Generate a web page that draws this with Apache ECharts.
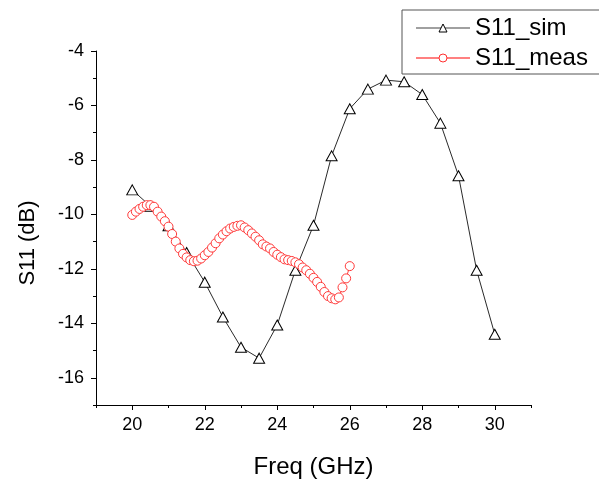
<!DOCTYPE html>
<html>
<head>
<meta charset="utf-8">
<script src="https://cdn.jsdelivr.net/npm/echarts@6/dist/echarts.min.js"></script>
<style>
html,body{margin:0;padding:0;background:#fff;}
#chart{width:599px;height:485px;}
</style>
</head>
<body>
<div id="chart"></div>
<script>
const freqSim = [20,20.5,21,21.5,22,22.5,23,23.5,24,24.5,25,25.5,26,26.5,27,27.5,28,28.5,29,29.5,30];
const s11Sim = [-9.10,-9.70,-10.42,-11.40,-12.49,-13.77,-14.88,-15.28,-14.06,-12.05,-10.40,-7.85,-6.12,-5.40,-5.07,-5.13,-5.60,-6.65,-8.58,-12.05,-14.40];

const freqMeas = [20.0,20.1,20.2,20.3,20.4,20.5,20.6,20.7,20.8,20.9,
  21.0,21.1,21.2,21.3,21.4,21.5,21.6,21.7,21.8,21.9,
  22.0,22.1,22.2,22.3,22.4,22.5,22.6,22.7,22.8,22.9,
  23.0,23.1,23.2,23.3,23.4,23.5,23.6,23.7,23.8,23.9,
  24.0,24.1,24.2,24.3,24.4,24.5,24.6,24.7,24.8,24.9,
  25.0,25.1,25.2,25.3,25.4,25.5,25.6,25.7,25.8,25.9,26.0];
const s11Meas = [-10.02,-9.90,-9.80,-9.72,-9.66,-9.66,-9.72,-9.90,-10.08,-10.25,
  -10.45,-10.72,-11.00,-11.25,-11.45,-11.58,-11.68,-11.72,-11.70,-11.62,
  -11.50,-11.38,-11.22,-11.06,-10.88,-10.74,-10.62,-10.52,-10.46,-10.42,
  -10.40,-10.48,-10.58,-10.70,-10.82,-10.95,-11.10,-11.18,-11.25,-11.38,
  -11.48,-11.57,-11.65,-11.68,-11.71,-11.76,-11.83,-11.95,-12.05,-12.18,
  -12.33,-12.48,-12.66,-12.85,-13.00,-13.08,-13.12,-13.05,-12.68,-12.35,-11.90];

const xMajorTicks = [20,22,24,26,28,30];
const xMinorTicks = [19,21,23,25,27,29,31];
const yMajorTicks = [-16,-14,-12,-10,-8,-6,-4];
const yMinorTicks = [-17,-15,-13,-11,-9,-7,-5];

const FONT = "'Liberation Sans', Arial, sans-serif";

const chart = echarts.init(document.getElementById('chart'), null, {renderer:'canvas'});

const xBase = {type:'value', min:19, max:31, interval:1, position:'bottom', splitLine:{show:false}};
const yBase = {type:'value', min:-17, max:-4, interval:1, position:'left', splitLine:{show:false}};

chart.setOption({
  animation:false,
  backgroundColor:'#fff',
  grid:{left:96, right:68, top:51, bottom:80, containLabel:false},
  legend:{
    left:402, top:10, orient:'vertical',
    padding:[6,22,4,13],
    itemWidth:54, itemHeight:10, itemGap:6,
    borderColor:'#555', borderWidth:1,
    textStyle:{fontFamily:FONT, fontSize:24, color:'#000', lineHeight:23},
    data:[
      {name:'S11_sim', itemStyle:{color:'#fff', borderColor:'#000', borderWidth:1}, lineStyle:{color:'#a0a0a0', width:2}},
      {name:'S11_meas', itemStyle:{color:'#fff', borderColor:'#ff3030', borderWidth:1}, lineStyle:{color:'#ff8080', width:2}}
    ]
  },
  xAxis:[
    Object.assign({}, xBase, {
      name:'Freq (GHz)', nameLocation:'middle', nameGap:50,
      nameTextStyle:{fontFamily:FONT, fontSize:24, color:'#000'},
      axisLine:{show:true, onZero:false, lineStyle:{color:'#000', width:1}},
      axisTick:{show:true, inside:false, length:5, customValues:xMajorTicks, lineStyle:{color:'#000'}},
      axisLabel:{show:true, margin:11, customValues:xMajorTicks, fontFamily:FONT, fontSize:18, color:'#000'}
    }),
    Object.assign({}, xBase, {
      axisLine:{show:false, onZero:false},
      axisTick:{show:true, inside:false, length:3, customValues:xMinorTicks, lineStyle:{color:'#000'}},
      axisLabel:{show:false}
    })
  ],
  yAxis:[
    Object.assign({}, yBase, {
      name:'S11 (dB)', nameLocation:'middle', nameGap:57,
      nameTextStyle:{fontFamily:FONT, fontSize:22, color:'#000', padding:[0,30,0,0]},
      axisLine:{show:true, onZero:false, lineStyle:{color:'#000', width:1}},
      axisTick:{show:true, inside:false, length:5, customValues:yMajorTicks, lineStyle:{color:'#000'}},
      axisLabel:{show:true, margin:12, customValues:yMajorTicks, fontFamily:FONT, fontSize:18, color:'#000'}
    }),
    Object.assign({}, yBase, {
      axisLine:{show:false, onZero:false},
      axisTick:{show:true, inside:false, length:3, customValues:yMinorTicks, lineStyle:{color:'#000'}},
      axisLabel:{show:false}
    })
  ],
  series:[
    {
      name:'S11_sim', type:'line', xAxisIndex:0, yAxisIndex:0,
      data: freqSim.map((f,i)=>[f, s11Sim[i]]),
      symbol:'triangle', symbolSize:[11,10], showAllSymbol:true,
      lineStyle:{color:'#2a2a2a', width:1},
      itemStyle:{color:'#fff', borderColor:'#000', borderWidth:1},
      emphasis:{disabled:true}
    },
    {
      name:'S11_meas', type:'line', xAxisIndex:0, yAxisIndex:0,
      data: freqMeas.map((f,i)=>[f, s11Meas[i]]),
      symbol:'circle', symbolSize:9, showAllSymbol:true,
      lineStyle:{color:'#ff4040', width:1},
      itemStyle:{color:'#fff', borderColor:'#ff3a3a', borderWidth:1},
      emphasis:{disabled:true}
    }
  ]
});
</script>
</body>
</html>
